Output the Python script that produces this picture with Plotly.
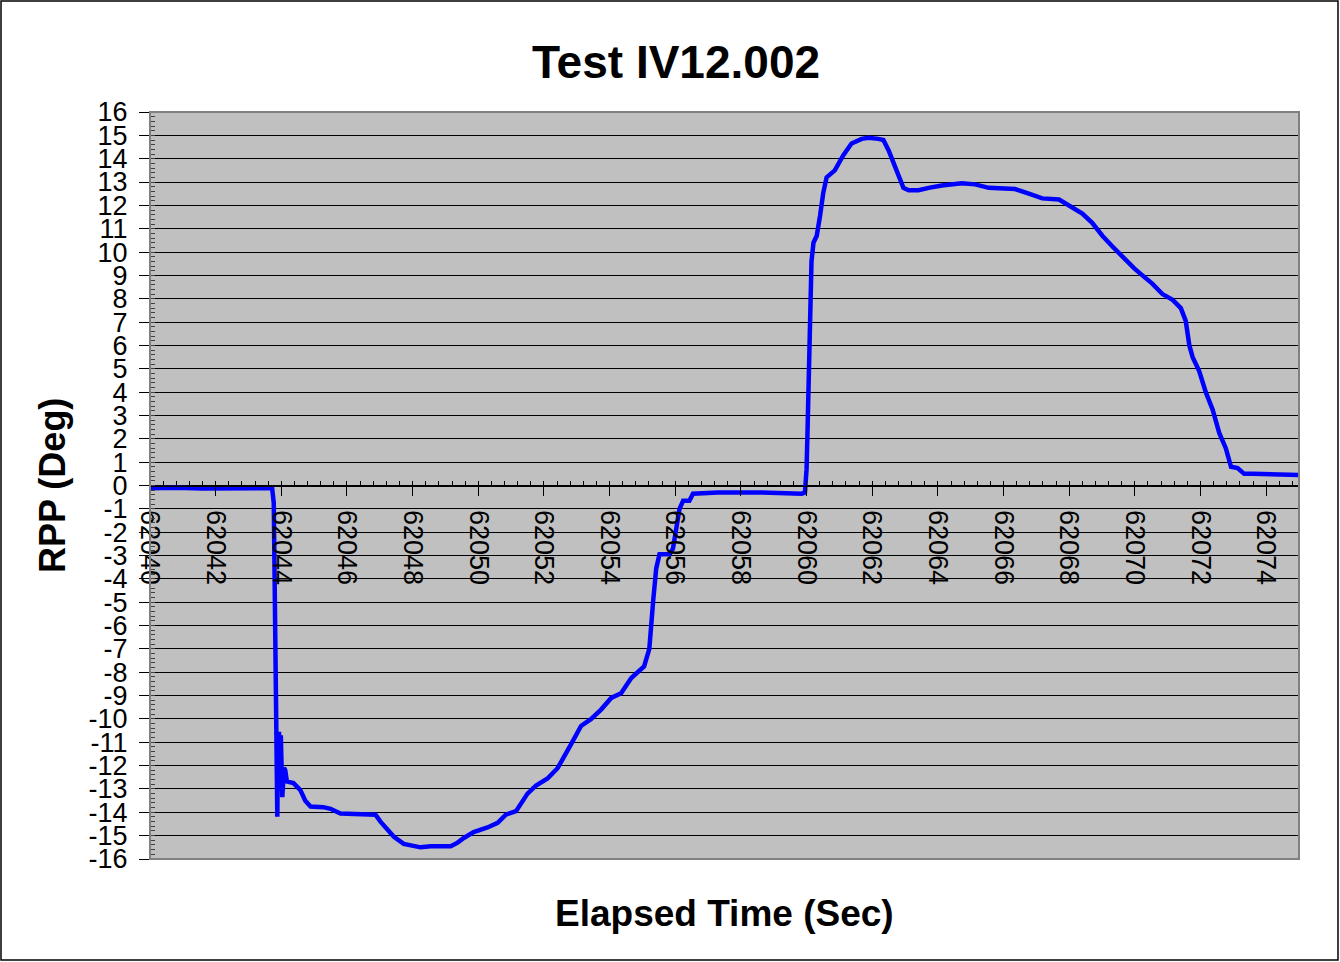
import plotly.graph_objects as go

# Test IV12.002 - RPP trace
elapsed_time = [
    62040.00, 62040.80, 62041.60, 62042.40, 62043.20, 62043.70, 62043.72, 62043.77,
    62043.80, 62043.82, 62043.85, 62043.878, 62043.90, 62043.93, 62043.96, 62043.985,
    62044.03, 62044.08, 62044.12, 62044.17, 62044.37, 62044.58, 62044.73, 62044.89,
    62045.28, 62045.50, 62045.80, 62046.41, 62046.87, 62047.02, 62047.23, 62047.43,
    62047.73, 62048.03, 62048.24, 62048.55, 62049.16, 62049.37, 62049.56, 62049.86,
    62050.28, 62050.59, 62050.84, 62051.15, 62051.30, 62051.50, 62051.76, 62052.11,
    62052.42, 62052.57, 62052.82, 62053.13, 62053.44, 62053.74, 62054.05, 62054.35,
    62054.66, 62055.05, 62055.21, 62055.33, 62055.42, 62055.52, 62055.83, 62055.93,
    62056.03, 62056.13, 62056.24, 62056.43, 62056.54, 62057.30, 62058.63, 62059.85,
    62059.95, 62060.00, 62060.03, 62060.09, 62060.12, 62060.15, 62060.21, 62060.31,
    62060.41, 62060.51, 62060.61, 62060.86, 62061.12, 62061.37, 62061.68, 62061.88,
    62062.19, 62062.34, 62062.50, 62062.65, 62062.80, 62062.95, 62063.11, 62063.41,
    62063.72, 62064.12, 62064.73, 62065.13, 62065.55, 62066.35, 62066.77, 62067.18,
    62067.69, 62067.99, 62068.40, 62068.70, 62069.01, 62069.31, 62069.62, 62069.98,
    62070.23, 62070.53, 62070.84, 62071.15, 62071.40, 62071.55, 62071.66, 62071.76,
    62071.96, 62072.16, 62072.37, 62072.57, 62072.77, 62072.93, 62073.13, 62073.33,
    62073.59, 62074.30, 62075.00,
]
rpp_deg = [
    -0.12, -0.10, -0.13, -0.11, -0.12, -0.10, -0.12, -0.75,
    -5.90, -9.20, -11.50, -14.19, -11.00, -10.55, -13.00, -10.70,
    -13.35, -12.10, -12.20, -12.68, -12.75, -13.05, -13.50, -13.75,
    -13.78, -13.85, -14.05, -14.10, -14.10, -14.40, -14.70, -15.05,
    -15.35, -15.45, -15.50, -15.45, -15.45, -15.30, -15.10, -14.85,
    -14.65, -14.45, -14.10, -13.95, -13.60, -13.20, -12.85, -12.55,
    -12.10, -11.75, -11.10, -10.30, -10.00, -9.60, -9.10, -8.90,
    -8.25, -7.75, -7.00, -4.90, -3.55, -2.95, -2.95, -2.70,
    -1.85, -1.00, -0.65, -0.65, -0.35, -0.30, -0.30, -0.35,
    -0.30, 0.70, 2.40, 5.40, 8.00, 9.60, 10.40, 10.70,
    11.55, 12.55, 13.20, 13.50, 14.15, 14.65, 14.85, 14.90,
    14.85, 14.80, 14.35, 13.80, 13.20, 12.75, 12.65, 12.65,
    12.75, 12.85, 12.95, 12.90, 12.75, 12.70, 12.50, 12.30,
    12.25, 12.00, 11.65, 11.25, 10.70, 10.25, 9.80, 9.30,
    9.00, 8.65, 8.20, 7.95, 7.60, 7.05, 6.00, 5.50,
    4.90, 4.00, 3.25, 2.25, 1.60, 0.80, 0.75, 0.50,
    0.50, 0.47, 0.45,
]

# y tick labels use a plain hyphen like the original (Excel style)
y_tick_vals = [-16, -15, -14, -13, -12, -11, -10, -9, -8, -7, -6, -5, -4, -3, -2, -1,
               0, 1, 2, 3, 4, 5, 6, 7, 8, 9, 10, 11, 12, 13, 14, 15, 16]
y_tick_text = [str(v) for v in y_tick_vals]

W, H = 1340, 962
ML, MR, MT, MB = 150, 41, 112, 103
PW, PH = W - ML - MR, H - MT - MB
FONT = "Liberation Sans, Arial, sans-serif"

fig = go.Figure()
fig.add_trace(go.Scatter(
    x=elapsed_time, y=rpp_deg, mode="lines",
    line=dict(color="#0000FF", width=4.5),
    showlegend=False, hoverinfo="x+y",
))

fig.update_layout(
    width=W, height=H,
    margin=dict(l=ML, r=MR, t=MT, b=MB),
    paper_bgcolor="white", plot_bgcolor="#C0C0C0",
    font=dict(family=FONT, color="black", size=27),
    title=dict(text="<b>Test IV12.002</b>", x=676 / W, xanchor="center",
               y=1 - 62 / H, yanchor="middle", font=dict(size=46, family=FONT)),
    xaxis=dict(
        range=[62040, 62075], dtick=2, tick0=62040, tickformat="d",
        tickangle=90, anchor="free", position=0.5,
        showline=True, linecolor="black", linewidth=1,
        ticks="outside", ticklen=9, tickcolor="black", ticklabelstandoff=9,
        minor=dict(dtick=0.4, ticks="inside", ticklen=5, tickcolor="black", showgrid=False),
        showgrid=False, zeroline=False, tickfont=dict(size=27),
    ),
    yaxis=dict(
        range=[-16, 16], tickmode="array", tickvals=y_tick_vals, ticktext=y_tick_text,
        showline=True, linecolor="black", linewidth=1,
        ticks="outside", ticklen=10, tickcolor="black", ticklabelstandoff=6,
        minor=dict(dtick=0.2, tick0=0, ticks="inside", ticklen=5, tickcolor="#404040", showgrid=False),
        showgrid=True, gridcolor="black", gridwidth=1, zeroline=False,
        tickfont=dict(size=27),
    ),
)

# axis titles (x title sits at the bottom, not next to the zero-crossing axis)
fig.add_annotation(text="<b>Elapsed Time (Sec)</b>", xref="paper", yref="paper",
                   x=0.5, y=-(913 - (MT + PH)) / PH, xanchor="center", yanchor="middle",
                   showarrow=False, font=dict(size=37, family=FONT))
fig.add_annotation(text="<b>RPP (Deg)</b>", xref="paper", yref="paper",
                   x=-(ML - 52) / PW, y=(MT + PH - 486) / PH, xanchor="center", yanchor="middle",
                   textangle=-90, showarrow=False, font=dict(size=36, family=FONT))

# plot area border and outer chart frame
fig.add_shape(type="rect", xref="paper", yref="paper", x0=0, y0=0, x1=1, y1=1,
              line=dict(color="#808080", width=2), layer="above")
fig.add_shape(type="rect", xref="paper", yref="paper",
              x0=(1 - ML) / PW, x1=(1338 - ML) / PW,
              y0=(MT + PH - 960) / PH, y1=(MT + PH - 1) / PH,
              line=dict(color="black", width=1.5))

# page margin off so the figure sits at the window's top-left corner
fig.write_html("out.html", config={"displayModeBar": False},
               post_script="document.body.style.margin='0';")
